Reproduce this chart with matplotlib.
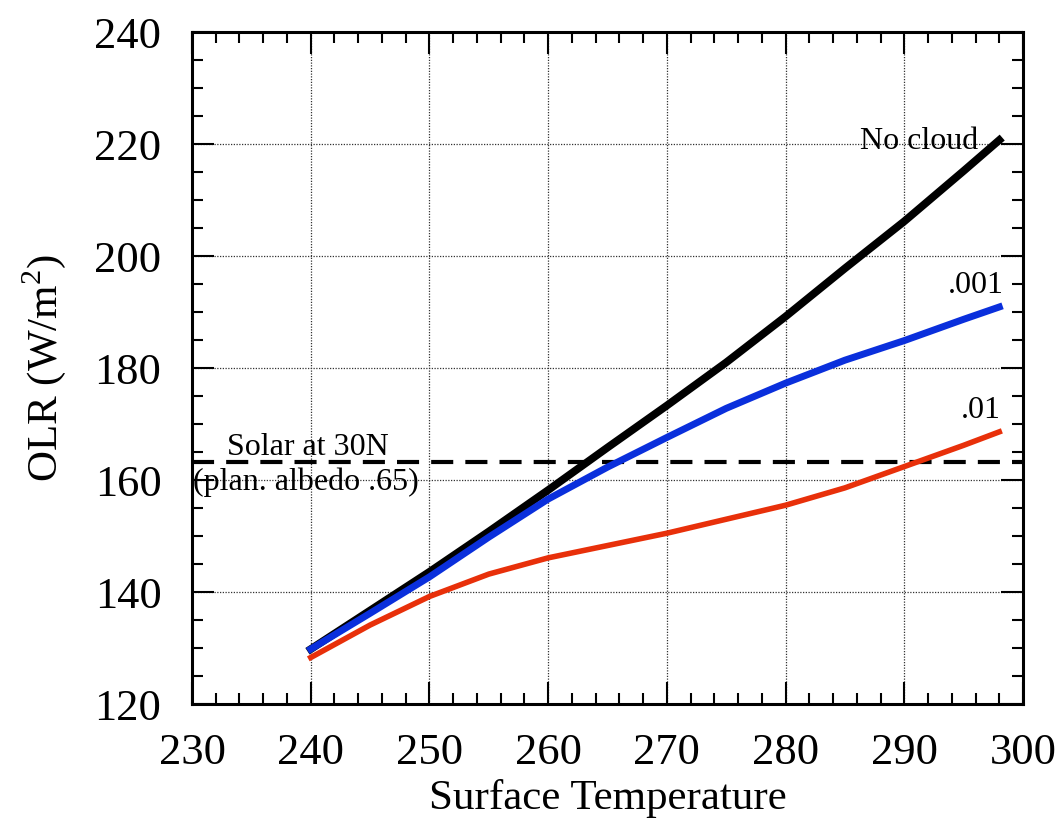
import matplotlib
matplotlib.use("Agg")
import matplotlib.pyplot as plt
from matplotlib.ticker import MultipleLocator

plt.rcParams['font.family'] = ['Liberation Serif', 'DejaVu Serif']
plt.rcParams['mathtext.fontset'] = 'custom'
plt.rcParams['mathtext.rm'] = 'Liberation Serif'

# surface temperature (K)
temp = [240, 245, 250, 255, 260, 265, 270, 275, 280, 285, 290, 295, 298]
# OLR (W/m2) for each cloud amount
olr_clear = [129.8, 136.7, 143.6, 150.8, 158.2, 165.8, 173.3, 181.0, 189.2, 197.8, 206.2, 215.2, 220.7]
olr_001 = [129.8, 136.2, 142.7, 149.8, 156.6, 162.3, 167.6, 172.8, 177.3, 181.4, 184.9, 188.7, 190.9]
olr_01 = [128.3, 134.1, 139.2, 143.2, 146.1, 148.3, 150.5, 153.0, 155.5, 158.6, 162.4, 166.2, 168.6]
solar_30n = 163.3

fig = plt.figure(figsize=(10.62, 8.19), dpi=100)
ax = fig.add_axes([0.1808, 0.1404, 0.7825, 0.8205])

ax.grid(True, which='major', color='#333333', linestyle=(0, (1, 1.2)), linewidth=0.9)
ax.axhline(solar_30n, color='black', lw=3, dashes=[5.3, 2.9], zorder=3)
ax.plot(temp, olr_01, color='#e8300a', lw=4, zorder=4, solid_joinstyle='round')
ax.plot(temp, olr_001, color='#0a2fdc', lw=5, zorder=5, solid_joinstyle='round')
ax.plot(temp, olr_clear, color='black', lw=5.6, zorder=4, solid_joinstyle='round')

ax.text(296.2, 219.1, 'No cloud', fontsize=23, ha='right', va='baseline')
ax.text(298.4, 193.4, '.001', fontsize=23, ha='right', va='baseline')
ax.text(298.1, 171.1, '.01', fontsize=23, ha='right', va='baseline')
ax.text(232.95, 164.5, 'Solar at 30N', fontsize=23, ha='left', va='baseline')
ax.text(230.1, 158.2, '(plan. albedo .65)', fontsize=23, ha='left', va='baseline')

ax.set_xlim(230, 300)
ax.set_ylim(120, 240)
ax.xaxis.set_major_locator(MultipleLocator(10))
ax.xaxis.set_minor_locator(MultipleLocator(2))
ax.yaxis.set_major_locator(MultipleLocator(20))
ax.yaxis.set_minor_locator(MultipleLocator(5))
ax.tick_params(which='both', direction='in', top=True, right=True)
ax.tick_params(which='major', length=16, width=1.5, labelsize=32)
ax.tick_params(axis='x', which='major', pad=21)
ax.tick_params(axis='y', which='major', pad=22)
ax.tick_params(which='minor', length=8, width=1.5)
for s in ax.spines.values():
    s.set_linewidth(2.2)

ax.set_xlabel('Surface Temperature', fontsize=31, labelpad=4)
ax.set_ylabel('OLR (W/m$^2$)', fontsize=31, labelpad=19)

fig.savefig('out.png', dpi=100)
